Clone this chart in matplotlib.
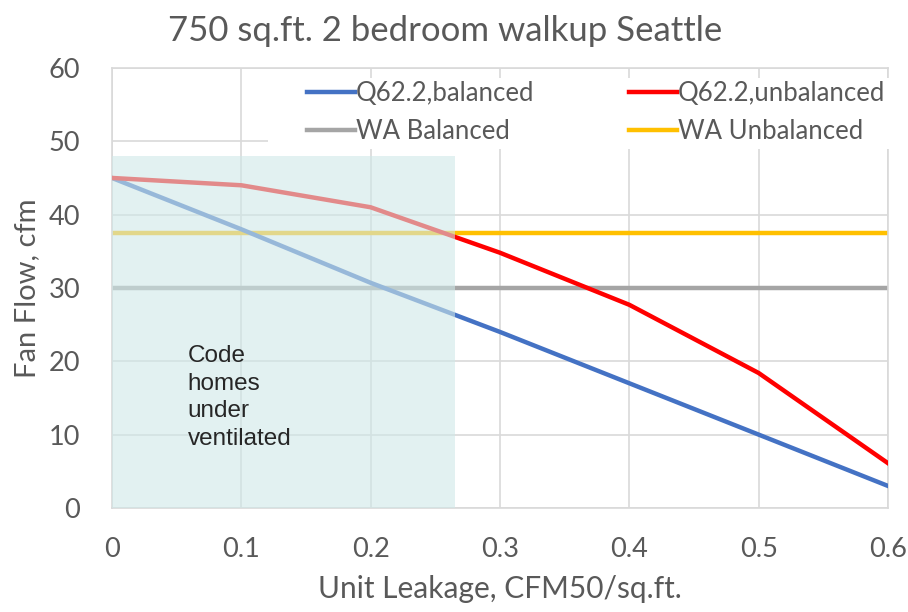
import numpy as np
import matplotlib.pyplot as plt
from matplotlib.patches import Rectangle

# data
leakage = [0.0, 0.1, 0.2, 0.3, 0.4, 0.5, 0.6]
q622_balanced = [45.0, 38.0, 30.7, 24.0, 17.0, 10.0, 3.0]
q622_unbalanced = [45.0, 44.0, 41.0, 34.8, 27.7, 18.4, 6.1]
wa_balanced = [30, 30, 30, 30, 30, 30, 30]
wa_unbalanced = [37.5, 37.5, 37.5, 37.5, 37.5, 37.5, 37.5]

shade_x = 0.265
shade_top = 48

txt = '#595959'
plt.rcParams['font.family'] = ['Lato', 'DejaVu Sans']

fig = plt.figure(figsize=(9.08, 6.12), dpi=100)
ax = fig.add_axes([0.1233, 0.170, 0.8547, 0.719])

l1, = ax.plot(leakage, q622_balanced, color='#4472c4', lw=3.2, label='Q62.2,balanced', zorder=3)
l2, = ax.plot(leakage, q622_unbalanced, color='#ff0000', lw=3.2, label='Q62.2,unbalanced', zorder=3)
l3, = ax.plot(leakage, wa_balanced, color='#a5a5a5', lw=3.2, label='WA Balanced', zorder=2)
l4, = ax.plot(leakage, wa_unbalanced, color='#ffc000', lw=3.2, label='WA Unbalanced', zorder=2)

# shaded "under ventilated" zone, drawn over the lines
ax.add_patch(Rectangle((0, 0), shade_x, shade_top, facecolor='#cfe8e8', alpha=0.6,
                       edgecolor='none', zorder=4))
ax.text(0.0585, 22.2, 'Code\nhomes\nunder\nventilated', family='Liberation Sans',
        fontsize=17.5, color='#262626', va='top', ha='left', linespacing=1.33, zorder=5)

# white box behind the legend
ax.add_patch(Rectangle((0.1206, 49.0), 0.49, 9.6, facecolor='white', edgecolor='none',
                       zorder=2.6, clip_on=False))

ax.set_xlim(0, 0.6)
ax.set_ylim(0, 60)
ax.set_xticks([0, 0.1, 0.2, 0.3, 0.4, 0.5, 0.6])
ax.set_xticklabels(['0', '0.1', '0.2', '0.3', '0.4', '0.5', '0.6'])
ax.set_yticks([0, 10, 20, 30, 40, 50, 60])
ax.grid(True, color='#d9d9d9', lw=1.2, zorder=0)
ax.set_axisbelow(True)
for s in ax.spines.values():
    s.set_color('#d9d9d9')
    s.set_linewidth(1.2)
ax.tick_params(length=0, labelsize=19.5, colors=txt)
ax.tick_params(axis='x', pad=21)
ax.tick_params(axis='y', pad=23)

ax.set_xlabel('Unit Leakage, CFM50/sq.ft.', fontsize=21.5, color=txt, labelpad=9)
ax.set_ylabel('Fan Flow, cfm', fontsize=21, color=txt, labelpad=6)
fig.text(0.49, 0.949, '750 sq.ft. 2 bedroom walkup Seattle', fontsize=25, color=txt,
         ha='center', va='center')

leg = ax.legend([l1, l3, l2, l4], [l.get_label() for l in (l1, l3, l2, l4)],
                ncol=2, loc='upper left', bbox_to_anchor=(307 / 908, 1 - 81 / 612),
                bbox_transform=fig.transFigure, fontsize=18.5, frameon=False,
                handlelength=1.85, handletextpad=0.05, columnspacing=3.7,
                borderpad=0, borderaxespad=0, labelspacing=0.5)
for t in leg.get_texts():
    t.set_color(txt)
leg.set_zorder(6)

fig.savefig('out.png', dpi=100)
